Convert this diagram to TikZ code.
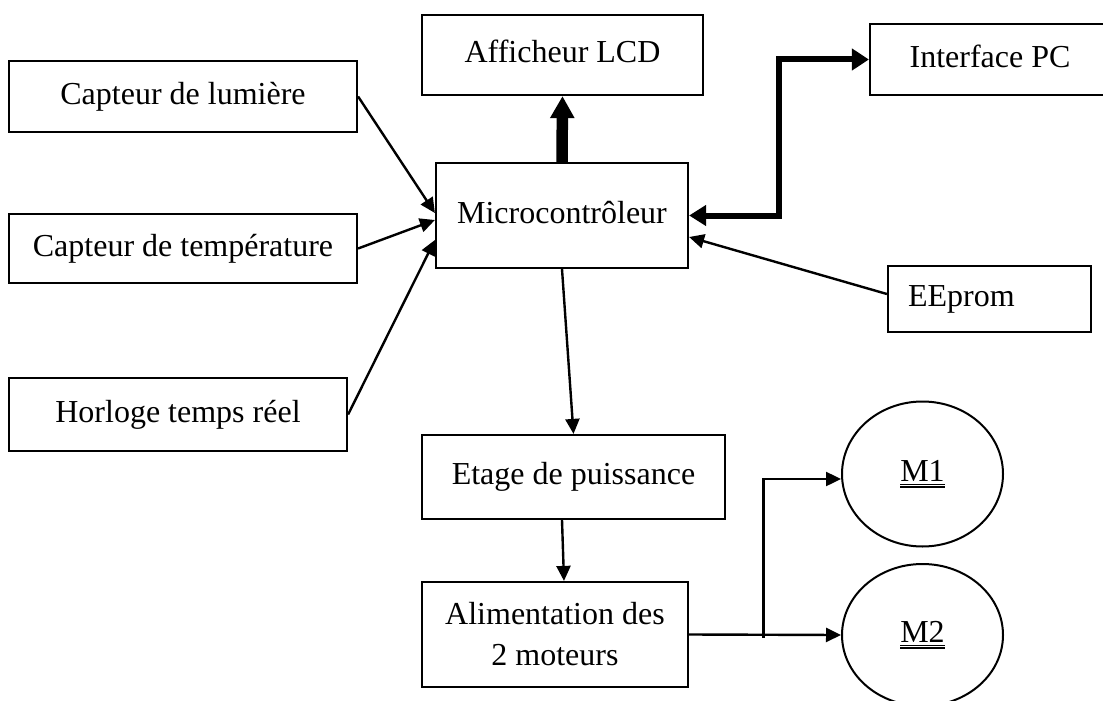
\documentclass[tikz,border=0pt]{standalone}
\usepackage{fontspec}
\setmainfont{Liberation Serif}
\usetikzlibrary{arrows.meta,shapes.geometric,calc}
\newcommand\dblul[1]{\leavevmode\vtop{\hbox{#1}\kern2pt\hrule height 1.1pt\kern1.8pt\hrule height 1.1pt}}
\tikzset{
  txt/.style={font=\fontsize{32}{41}\selectfont},
  blk/.style={txt, draw, line width=2.2pt, rectangle, inner sep=0pt, text height=22pt, text depth=7pt},
  motor/.style={txt, draw, line width=2pt, ellipse, inner sep=0pt, text height=22pt, text depth=7pt},
  arr/.style={line width=2.4pt, -{Triangle[length=15pt,width=14pt]}},
  bigarr/.style={line width=11.5pt, -{Triangle[length=22pt,width=23pt]}},
  bus/.style={line width=6pt, {Triangle[length=17pt,width=21pt]}-{Triangle[length=17pt,width=20pt]}}
}
\begin{document}
\begin{tikzpicture}[x=1pt,y=-1pt]
\useasboundingbox (0,0) rectangle (1103,701);
\fill[white] (0,0) rectangle (1103,701);

\node[blk, minimum width=348pt, minimum height=71pt] (lum) at (183,96.5) {Capteur de lumière};
\node[blk, minimum width=348pt, minimum height=69pt] (temp) at (183,248.5) {Capteur de température};
\node[blk, minimum width=338pt, minimum height=73pt] (horl) at (178,414.5) {Horloge temps réel};
\node[blk, minimum width=281pt, minimum height=80pt] (lcd) at (562.5,55) {Afficheur LCD};
\node[blk, minimum width=252pt, minimum height=105pt] (micro) at (562,215.5) {Microcontrôleur};
\node[blk, minimum width=240pt, minimum height=71pt] (iface) at (990,59.5) {Interface PC};
\node[blk, text width=163pt, inner xsep=20pt, align=left, minimum height=66pt] (ee) at (989.5,299) {EEprom};
\node[blk, minimum width=303pt, minimum height=84pt] (etage) at (573.5,477) {Etage de puissance};
\node[txt, draw, line width=2.2pt, inner sep=0pt, align=center, minimum width=266pt, minimum height=105pt] (alim) at (555,634.5) {Alimentation des\\2 moteurs};
\node[motor, minimum width=161pt, minimum height=145pt] (m1) at (922.5,474) {\dblul{M1}};
\node[motor, minimum width=161pt, minimum height=142pt] (m2) at (922.5,635) {\dblul{M2}};

\draw[arr] (lum.east) -- ([yshift=2.5pt]micro.west);
\draw[arr] (temp.east) -- ([yshift=-4.5pt]micro.west);
\draw[arr] (horl.east) -- ([yshift=-24.5pt]micro.west);
\draw[arr] ([yshift=5pt]ee.west) -- ([yshift=-21.5pt]micro.east);
\draw[bigarr] (micro.north) -- (lcd.south);
\draw[bus] (iface.west) -| ($(micro.east)!.5!(iface.west)$) |- (micro.east);
\draw[arr] (micro.south) -- (etage.north);
\draw[arr] ([xshift=-11.5pt]etage.south) -- ([xshift=9pt]alim.north);
\coordinate (j) at ($(alim.east)!0.49!(m2.west)$);
\draw[arr] (alim.east) -- (m2.west);
\draw[arr] ([yshift=-3pt]j) |- ([yshift=-5pt]m1.west);
\end{tikzpicture}
\end{document}
